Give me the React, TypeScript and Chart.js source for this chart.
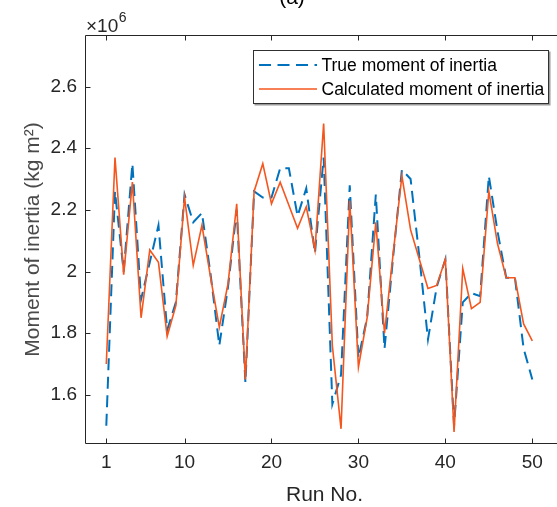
import { useEffect, useRef } from "react";
import { Chart, registerables } from "chart.js";

Chart.register(...registerables);

// Run numbers (x categories)
const runNo = [
  1, 2, 3, 4, 5, 6, 7, 8, 9, 10,
  11, 12, 13, 14, 15, 16, 17, 18, 19, 20,
  21, 22, 23, 24, 25, 26, 27, 28, 29, 30,
  31, 32, 33, 34, 35, 36, 37, 38, 39, 40,
  41, 42, 43, 44, 45, 46, 47, 48, 49, 50,
];

// Moment of inertia, in units of 10^6 kg m^2
const trueMoment = [
  1.50, 2.26, 2.00, 2.35, 1.91, 2.03, 2.15, 1.81, 1.90, 2.25,
  2.16, 2.19, 1.99, 1.76, 1.95, 2.20, 1.64, 2.26, 2.24, 2.24,
  2.335, 2.335, 2.18, 2.27, 2.06, 2.37, 1.57, 1.665, 2.28, 1.72,
  1.85, 2.25, 1.75, 2.05, 2.33, 2.30, 2.05, 1.78, 1.95, 2.04,
  1.50, 1.90, 1.93, 1.92, 2.31, 2.13, 1.98, 1.98, 1.75, 1.65,
];

const calcMoment = [
  1.70, 2.37, 1.99, 2.29, 1.85, 2.07, 2.03, 1.79, 1.89, 2.24,
  2.02, 2.15, 1.98, 1.82, 1.96, 2.22, 1.65, 2.26, 2.35, 2.22,
  2.29, 2.215, 2.14, 2.21, 2.07, 2.48, 1.76, 1.49, 2.23, 1.69,
  1.85, 2.16, 1.80, 2.06, 2.31, 2.135, 2.04, 1.945, 1.955, 2.04,
  1.48, 2.01, 1.88, 1.90, 2.26, 2.09, 1.98, 1.98, 1.83, 1.775,
];

const xTickValues = [1, 10, 20, 30, 40, 50];
const yTickValues = [1.6, 1.8, 2, 2.2, 2.4, 2.6];

const seriesLabels = ["True moment of inertia", "Calculated moment of inertia"];

const FONT = "'Liberation Sans', Arial, Helvetica, sans-serif";
const AXIS_COLOR = "#262626";

const decorPlugin = {
  id: "decor",
  afterDraw(chart: any) {
    const { ctx, chartArea: a, scales } = chart;
    const L = Math.round(a.left) - 0.5;
    const R = Math.round(a.right) - 0.5;
    const T = Math.round(a.top) - 0.5;
    const B = Math.round(a.bottom) + 0.5;
    ctx.save();
    ctx.strokeStyle = AXIS_COLOR;
    ctx.lineWidth = 1;
    ctx.beginPath();
    ctx.moveTo(L, T);
    ctx.lineTo(R, T);
    ctx.lineTo(R, B);
    ctx.lineTo(L, B);
    ctx.closePath();
    const tl = 5;
    scales.x.ticks.forEach((t: any) => {
      const px = Math.round(scales.x.getPixelForValue(t.value)) + 0.5;
      ctx.moveTo(px, B);
      ctx.lineTo(px, B - tl);
      ctx.moveTo(px, T);
      ctx.lineTo(px, T + tl);
    });
    scales.y.ticks.forEach((t: any) => {
      const py = Math.round(scales.y.getPixelForValue(t.value)) + 0.5;
      ctx.moveTo(L, py);
      ctx.lineTo(L + tl, py);
      ctx.moveTo(R, py);
      ctx.lineTo(R - tl, py);
    });
    ctx.stroke();

    // exponent label
    ctx.fillStyle = AXIS_COLOR;
    ctx.textBaseline = "alphabetic";
    ctx.textAlign = "left";
    ctx.font = `19px ${FONT}`;
    ctx.fillText("\u00d710", 86, 32);
    const w = ctx.measureText("\u00d710").width;
    ctx.font = `14px ${FONT}`;
    ctx.fillText("6", 86 + w + 0.5, 22);

    // panel label (mostly cut off at top)
    ctx.font = `21px ${FONT}`;
    ctx.textAlign = "center";
    ctx.fillStyle = "#000";
    ctx.fillText("(a)", 292, 3.5);

    // legend
    const bx = 253.5, by = 50.5, bw = 295, bh = 53;
    ctx.fillStyle = "#fff";
    ctx.fillRect(bx, by, bw, bh);
    ctx.strokeStyle = "#9a9a9a";
    ctx.lineWidth = 2;
    ctx.beginPath();
    ctx.moveTo(bx + 1, by + bh + 1);
    ctx.lineTo(bx + bw + 1, by + bh + 1);
    ctx.lineTo(bx + bw + 1, by + 1);
    ctx.stroke();
    ctx.strokeStyle = "#303030";
    ctx.lineWidth = 1;
    ctx.strokeRect(bx, by, bw, bh);
    const rows = [65, 89];
    chart.data.datasets.forEach((ds: any, i: number) => {
      const y = rows[i];
      ctx.save();
      ctx.strokeStyle = ds.borderColor;
      ctx.lineWidth = ds.borderWidth;
      ctx.setLineDash(ds.borderDash || []);
      ctx.beginPath();
      ctx.moveTo(259, y);
      ctx.lineTo(317, y);
      ctx.stroke();
      ctx.restore();
      ctx.fillStyle = "#000";
      ctx.font = `17.5px ${FONT}`;
      ctx.textAlign = "left";
      ctx.textBaseline = "middle";
      ctx.fillText(ds.label, 321.5, y + 1);
    });
    ctx.restore();
  },
};

export default function App() {
  const canvasRef = useRef<HTMLCanvasElement | null>(null);

  useEffect(() => {
    if (!canvasRef.current) return;
    const chart = new Chart(canvasRef.current, {
      type: "line",
      data: {
        datasets: [
          {
            label: seriesLabels[0],
            data: runNo.map((x, i) => ({ x, y: trueMoment[i] })),
            borderColor: "#0072BD",
            borderWidth: 2,
            borderDash: [12, 6.5],
            pointRadius: 0,
            tension: 0,
            fill: false,
            order: 2,
          },
          {
            label: seriesLabels[1],
            data: runNo.map((x, i) => ({ x, y: calcMoment[i] })),
            borderColor: "#F4561E",
            borderWidth: 1.6,
            pointRadius: 0,
            tension: 0,
            fill: false,
            order: 1,
          },
        ],
      },
      options: {
        animation: false,
        responsive: false,
        maintainAspectRatio: false,
        devicePixelRatio: 1,
        layout: { padding: { top: 36, right: 37, bottom: 0, left: 0 } },
        plugins: {
          legend: { display: false },
          title: { display: false },
          tooltip: { enabled: false },
        },
        scales: {
          x: {
            type: "linear",
            min: -1.335,
            max: 53.53,
            grid: { display: false, drawTicks: false },
            border: { display: false },
            afterBuildTicks: (s: any) => {
              s.ticks = xTickValues.map((v) => ({ value: v }));
            },
            afterFit: (s: any) => {
              s.height = 64;
            },
            ticks: {
              color: AXIS_COLOR,
              font: { family: FONT, size: 19 },
              padding: 8,
              maxRotation: 0,
              autoSkip: false,
              callback: (v: any) => String(v),
            },
            title: {
              display: true,
              text: "Run No.",
              color: AXIS_COLOR,
              font: { family: FONT, size: 21, lineHeight: 1 },
              padding: { top: 0, bottom: 1 },
            },
          },
          y: {
            type: "linear",
            min: 1.444,
            max: 2.764,
            grid: { display: false, drawTicks: false },
            border: { display: false },
            afterBuildTicks: (s: any) => {
              s.ticks = yTickValues.map((v) => ({ value: v }));
            },
            afterFit: (s: any) => {
              s.width = 86;
            },
            ticks: {
              color: AXIS_COLOR,
              font: { family: FONT, size: 19 },
              padding: 9,
              autoSkip: false,
              callback: (v: any) => String(Math.round(v * 10) / 10),
            },
            title: {
              display: true,
              text: "Moment of inertia (kg m\u00b2)",
              color: "#4a4a4a",
              font: { family: FONT, size: 21, lineHeight: 1 },
              padding: { top: 23, bottom: 0 },
            },
          },
        },
      },
      plugins: [decorPlugin],
    });
    return () => chart.destroy();
  }, []);

  return (
    <div
      style={{
        position: "fixed",
        left: 0,
        top: 0,
        width: 557,
        height: 507,
        overflow: "hidden",
        background: "#fff",
      }}
    >
      <canvas ref={canvasRef} width={600} height={507} style={{ display: "block" }} />
    </div>
  );
}
